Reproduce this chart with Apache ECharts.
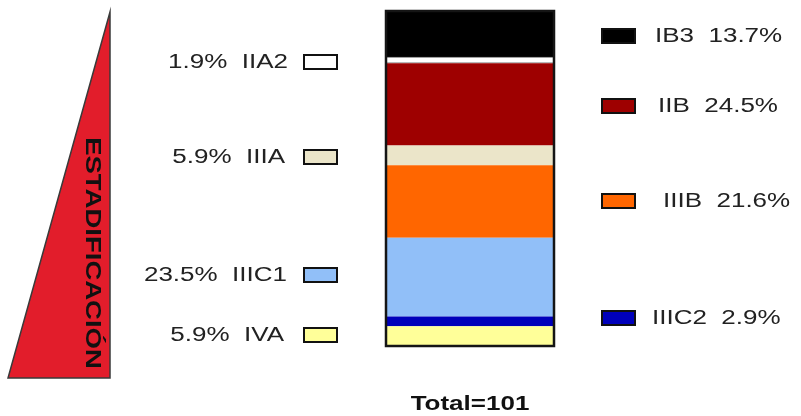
<!DOCTYPE html>
<html>
<head>
<meta charset="utf-8">
<script src="https://cdn.jsdelivr.net/npm/echarts@6/dist/echarts.min.js"></script>
<style>
  html, body { margin: 0; padding: 0; background: #ffffff; }
  #chart { width: 801px; height: 416px; }
</style>
</head>
<body>
<div id="chart"></div>
<script>
// Stage distribution (percent of patients), top of the bar to bottom
const stages   = ['IB3', 'IIA2', 'IIB', 'IIIA', 'IIIB', 'IIIC1', 'IIIC2', 'IVA'];
const percents = [13.7, 1.9, 24.5, 5.9, 21.6, 23.5, 2.9, 5.9];
const totalPatients = 101;
const sideTitle = 'ESTADIFICACIÓN';

// Fill colour per stage
const stageColors = {
  IB3: '#000000', IIA2: '#ffffff', IIB: '#9e0000', IIIA: '#ebe5c9',
  IIIB: '#ff6600', IIIC1: '#91bff8', IIIC2: '#0000bb', IVA: '#ffff99'
};

// Where each stage's key sits: which side, key box x, text anchor x, centre y
const keyLayout = {
  IB3:   { side: 'right', box: 602, text: 655, y: 36 },
  IIB:   { side: 'right', box: 602, text: 658, y: 106 },
  IIIB:  { side: 'right', box: 602, text: 663, y: 201 },
  IIIC2: { side: 'right', box: 602, text: 652, y: 318 },
  IIA2:  { side: 'left',  box: 304, text: 288, y: 62 },
  IIIA:  { side: 'left',  box: 304, text: 285, y: 157 },
  IIIC1: { side: 'left',  box: 304, text: 287, y: 275 },
  IVA:   { side: 'left',  box: 304, text: 284, y: 335 }
};

const GRID = { left: 386, top: 11, width: 168, height: 335 };
const FONT = '"Liberation Sans", Arial, Helvetica, sans-serif';
const TEXT_STRETCH = 1.3;

const chart = echarts.init(document.getElementById('chart'), null, { renderer: 'canvas' });

const series = stages.map((name, i) => ({
  name: name,
  type: 'bar',
  stack: 'stage',
  barWidth: '100%',
  data: [percents[i]],
  itemStyle: {
    color: stageColors[name],
    borderColor: name === 'IIA2' ? '#9a9a9a' : stageColors[name],
    borderWidth: name === 'IIA2' ? 1 : 0
  },
  emphasis: { disabled: true },
  silent: true
}));

const graphics = [];

// Red wedge on the left with the vertical title
graphics.push({
  type: 'polygon',
  shape: { points: [[110, 12], [8, 378], [110, 378]] },
  style: { fill: '#e21d2b', stroke: '#3a3a3a', lineWidth: 1.5 },
  z: 1
});
graphics.push({
  type: 'text',
  x: 92, y: 253,
  rotation: -Math.PI / 2,
  scaleX: 1.25, scaleY: 1,
  style: {
    text: sideTitle,
    font: 'bold 22px ' + FONT,
    fill: '#111111',
    align: 'center',
    verticalAlign: 'middle'
  },
  z: 2
});

// Key boxes and labels
stages.forEach((name, i) => {
  const k = keyLayout[name];
  graphics.push({
    type: 'rect',
    shape: { x: k.box, y: k.y - 7, width: 33, height: 14 },
    style: { fill: stageColors[name], stroke: '#111111', lineWidth: 2 },
    z: 5
  });
  const pct = percents[i].toFixed(1) + '%';
  const label = k.side === 'left' ? pct + '  ' + name : name + '  ' + pct;
  graphics.push({
    type: 'text',
    x: k.text, y: k.y,
    scaleX: TEXT_STRETCH, scaleY: 1,
    style: {
      text: label,
      font: '20px ' + FONT,
      fill: '#222222',
      align: k.side === 'left' ? 'right' : 'left',
      verticalAlign: 'middle'
    },
    z: 5
  });
});

// Outline around the stacked bar
graphics.push({
  type: 'rect',
  shape: { x: GRID.left, y: GRID.top, width: GRID.width, height: GRID.height },
  style: { fill: 'none', stroke: '#151515', lineWidth: 2.5 },
  z: 100
});

// Total count under the bar
graphics.push({
  type: 'text',
  x: GRID.left + GRID.width / 2, y: 404,
  scaleX: TEXT_STRETCH, scaleY: 1,
  style: {
    text: 'Total=' + totalPatients,
    font: 'bold 20px ' + FONT,
    fill: '#111111',
    align: 'center',
    verticalAlign: 'middle'
  },
  z: 5
});

const sum = percents.reduce((a, b) => a + b, 0);

chart.setOption({
  animation: false,
  backgroundColor: '#ffffff',
  grid: {
    left: GRID.left, top: GRID.top,
    width: GRID.width, height: GRID.height,
    containLabel: false
  },
  xAxis: {
    type: 'category',
    data: ['Total'],
    show: false
  },
  yAxis: {
    type: 'value',
    min: 0,
    max: sum,
    inverse: true,
    show: false
  },
  series: series,
  graphic: graphics
});
</script>
</body>
</html>
